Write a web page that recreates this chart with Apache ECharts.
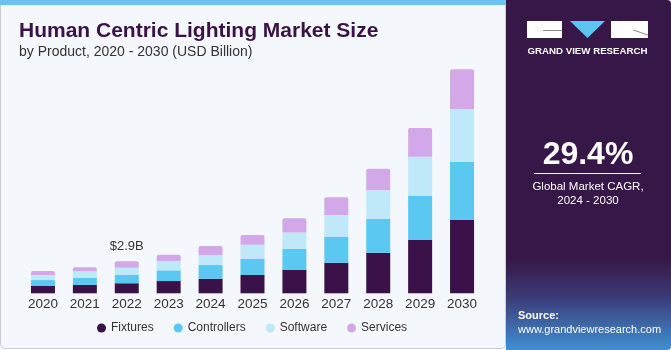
<!DOCTYPE html>
<html>
<head>
<meta charset="utf-8">
<script src="https://cdn.jsdelivr.net/npm/echarts@6/dist/echarts.min.js"></script>
<style>
  html, body { margin: 0; padding: 0; background: #ffffff; }
  #chart { width: 671px; height: 350px; }
</style>
</head>
<body>
<div id="chart"></div>
<script>
// values, USD billion
const years = ['2020', '2021', '2022', '2023', '2024', '2025', '2026', '2027', '2028', '2029', '2030']
const fixtures = [0.66, 0.75, 0.91, 1.11, 1.32, 1.66, 2.14, 2.77, 3.68, 4.83, 6.64]
const controllers = [0.54, 0.66, 0.75, 0.97, 1.24, 1.48, 1.88, 2.36, 3.05, 4.01, 5.28]
const software = [0.45, 0.58, 0.66, 0.82, 0.88, 1.27, 1.48, 1.97, 2.60, 3.53, 4.75]
const services = [0.36, 0.36, 0.58, 0.60, 0.84, 0.88, 1.30, 1.60, 1.96, 2.60, 3.62]
const calloutIndex = 2
const calloutText = '$2.9B'

const colors = ['#3a1249', '#5ac8f1', '#bfe8f8', '#d2a8e8']
const font = 'Liberation Sans, Arial, sans-serif'

const chart = echarts.init(document.getElementById('chart'))

function makeSeries(name, data, top) {
  return {
    name: name,
    type: 'bar',
    stack: 'total',
    barWidth: 24,
    itemStyle: {
      borderRadius: top ? [2, 2, 0, 0] : 0
    },
    emphasis: { disabled: true },
    data: data.map((v, i) => {
      if (top && i === calloutIndex) {
        return {
          value: v,
          label: {
            show: true,
            position: 'top',
            distance: 8,
            formatter: calloutText,
            color: '#333333',
            fontSize: 13,
            fontFamily: font
          }
        }
      }
      return v
    })
  }
}

chart.setOption({
  animation: false,
  color: colors,
  graphic: [
    // left panel
    { type: 'rect', z: -10, shape: { x: 0.5, y: 0.5, width: 505, height: 348, r: 4 },
      style: { fill: '#f4f8fc', stroke: '#c9cdd2', lineWidth: 1 } },
    { type: 'rect', z: -9, shape: { x: 0, y: 0, width: 506, height: 5 },
      style: { fill: '#6cc4ea' } },
    // right panel
    { type: 'rect', z: -10, shape: { x: 506, y: 0, width: 165, height: 350, r: [0, 4, 4, 0] },
      style: {
        fill: new echarts.graphic.LinearGradient(0, 0, 0, 1, [
          { offset: 0, color: '#371747' },
          { offset: 0.74, color: '#371747' },
          { offset: 0.85, color: '#3c3b78' },
          { offset: 1, color: '#3f90d2' }
        ])
      } },
    // logo
    { type: 'rect', shape: { x: 527, y: 21, width: 35, height: 17 }, style: { fill: '#ffffff' } },
    { type: 'line', shape: { x1: 543, y1: 30.5, x2: 562, y2: 30.5 }, style: { stroke: '#8a8a8a', lineWidth: 1 } },
    { type: 'polygon', shape: { points: [[570, 21], [605, 21], [587.5, 38]] }, style: { fill: '#5cc4f0' } },
    { type: 'rect', shape: { x: 611, y: 21, width: 37, height: 17 }, style: { fill: '#ffffff' } },
    { type: 'line', shape: { x1: 633, y1: 30, x2: 648, y2: 35 }, style: { stroke: '#8a8a8a', lineWidth: 1 } },
    { type: 'text', style: { x: 587.5, y: 51, text: 'GRAND VIEW RESEARCH', fill: '#ffffff',
      font: 'bold 9.7px ' + font, textAlign: 'center', textVerticalAlign: 'middle' } },
    // CAGR
    { type: 'text', style: { x: 588, y: 155, text: '29.4%', fill: '#ffffff',
      font: 'bold 32px ' + font, textAlign: 'center', textVerticalAlign: 'middle' } },
    { type: 'line', shape: { x1: 534, y1: 173.5, x2: 641, y2: 173.5 }, style: { stroke: '#ffffff', lineWidth: 1 } },
    { type: 'text', style: { x: 588, y: 187, text: 'Global Market CAGR,', fill: '#ffffff',
      font: '11.5px ' + font, textAlign: 'center', textVerticalAlign: 'middle' } },
    { type: 'text', style: { x: 588, y: 201, text: '2024 - 2030', fill: '#ffffff',
      font: '11.5px ' + font, textAlign: 'center', textVerticalAlign: 'middle' } },
    { type: 'text', style: { x: 518, y: 316, text: 'Source:', fill: '#ffffff',
      font: 'bold 11px ' + font, textVerticalAlign: 'middle' } },
    { type: 'text', style: { x: 518, y: 330, text: 'www.grandviewresearch.com', fill: '#ffffff',
      font: '11px ' + font, textVerticalAlign: 'middle' } }
  ],
  title: {
    text: 'Human Centric Lighting Market Size',
    subtext: 'by Product, 2020 - 2030 (USD Billion)',
    left: 14,
    top: 16,
    itemGap: 3,
    textStyle: { color: '#3a1249', fontSize: 21, fontWeight: 900, fontFamily: font },
    subtextStyle: { color: '#333333', fontSize: 14, fontFamily: font }
  },
  legend: {
    bottom: 11,
    left: 92,
    icon: 'circle',
    itemWidth: 9,
    itemHeight: 9,
    itemGap: 20,
    textStyle: { color: '#333333', fontSize: 12, fontFamily: font },
    data: ['Fixtures', 'Controllers', 'Software', 'Services']
  },
  grid: {
    left: 22,
    width: 461,
    top: 50.5,
    bottom: 56.7
  },
  xAxis: {
    type: 'category',
    data: years,
    axisLine: { show: false },
    axisTick: { show: false },
    axisLabel: { color: '#333333', fontSize: 13.5, fontFamily: font, margin: 4 }
  },
  yAxis: {
    type: 'value',
    min: 0,
    max: 22,
    show: false
  },
  series: [
    makeSeries('Fixtures', fixtures, false),
    makeSeries('Controllers', controllers, false),
    makeSeries('Software', software, false),
    makeSeries('Services', services, true)
  ]
})
</script>
</body>
</html>
